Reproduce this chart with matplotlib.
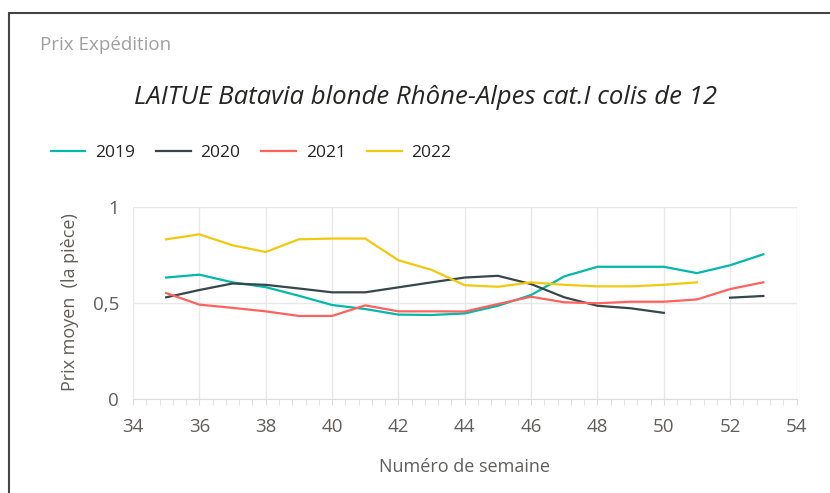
import numpy as np
import matplotlib
matplotlib.use('Agg')
import matplotlib.pyplot as plt
from matplotlib.patches import Rectangle
from matplotlib.ticker import MultipleLocator

plt.rcParams['font.family'] = ['Open Sans', 'DejaVu Sans']

weeks = list(range(35, 54))
prix_2019 = [0.63, 0.645, 0.605, 0.58, 0.535, 0.487, 0.466, 0.437, 0.435, 0.443,
             0.483, 0.539, 0.636, 0.686, 0.686, 0.686, 0.653, 0.694, 0.751]
prix_2020 = [0.527, 0.565, 0.599, 0.592, 0.573, 0.553, 0.553, 0.579, 0.605, 0.63,
             0.639, 0.596, 0.527, 0.483, 0.47, 0.446, np.nan, 0.525, 0.534]
prix_2021 = [0.549, 0.489, 0.472, 0.454, 0.43, 0.43, 0.485, 0.454, 0.454, 0.453,
             0.492, 0.53, 0.501, 0.496, 0.504, 0.504, 0.516, 0.57, 0.605]
prix_2022 = [0.829, 0.855, 0.798, 0.763, 0.829, 0.833, 0.833, 0.72, 0.67, 0.59,
             0.582, 0.605, 0.592, 0.584, 0.584, 0.592, 0.605, np.nan, np.nan]

series = [('2019', prix_2019, '#01B8AA'),
          ('2020', prix_2020, '#374649'),
          ('2021', prix_2021, '#FD625E'),
          ('2022', prix_2022, '#F2C80F')]

W, H = 830, 493
fig = plt.figure(figsize=(W / 100, H / 100), dpi=100)

# cadre du visuel
fig.patches.append(Rectangle((8.5 / W, -0.1), 2, (H - 13.5) / H + 0.1,
                             transform=fig.transFigure, fill=False,
                             edgecolor='#444444', linewidth=1.5))

ax = fig.add_axes([133 / W, (H - 398.5) / H, (796.5 - 133) / W, (398.5 - 206.5) / H])

for label, vals, color in series:
    ax.plot(weeks, vals, color=color, linewidth=1.6, label=label)

ax.set_xlim(34, 54)
ax.set_ylim(0, 1)
ax.xaxis.set_major_locator(MultipleLocator(2))
ax.xaxis.set_minor_locator(MultipleLocator(0.4))
ax.set_yticks([0, 0.5, 1])
ax.set_yticklabels(['0', '0,5', '1'])
ax.grid(True, which='major', color='#e8e8e8', linewidth=1)
ax.set_axisbelow(True)
for s in ['top', 'right', 'left']:
    ax.spines[s].set_visible(False)
ax.spines['bottom'].set_color('#dddddd')
ax.tick_params(axis='x', which='major', length=4, color='#dddddd', labelsize=13.5,
               labelcolor='#605E5C', pad=10)
ax.tick_params(axis='x', which='minor', length=4, color='#dddddd')
ax.tick_params(axis='y', length=0, labelsize=13.5, labelcolor='#605E5C', pad=10)

ax.set_xlabel('Numéro de semaine', fontsize=13, color='#605E5C', labelpad=16)
ax.set_ylabel('Prix moyen  (la pièce)', fontsize=13, color='#605E5C', labelpad=10)

fig.text(40 / W, 1 - 45 / H, 'Prix Expédition', fontsize=13.5, color='#a0a0a0',
         va='center', ha='left')
fig.text(425 / W, 1 - 98 / H, 'LAITUE Batavia blonde Rhône-Alpes cat.I colis de 12',
         fontsize=18.5, style='italic', color='#252423', va='center', ha='center')

fig.legend(loc='center left', bbox_to_anchor=(35 / W, 1 - 153 / H), ncol=4,
           frameon=False, fontsize=12.5, handlelength=2.0, handletextpad=0.55,
           columnspacing=1.22, labelcolor='#252423')

fig.savefig('out.png', dpi=100)
